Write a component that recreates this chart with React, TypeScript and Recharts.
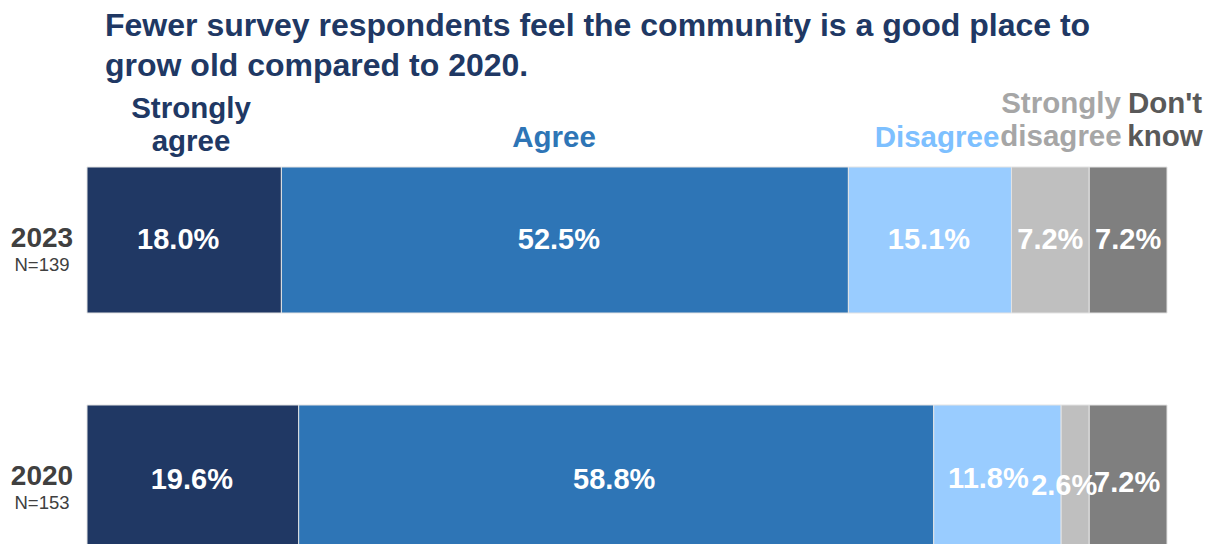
import React from 'react';
import { BarChart, Bar, XAxis, YAxis, LabelList } from 'recharts';

const years = ['2023', '2020'];
const sampleSizes = [139, 153];
const stronglyAgree = [18.0, 19.6];
const agree = [52.5, 58.8];
const disagree = [15.1, 11.8];
const stronglyDisagree = [7.2, 2.6];
const dontKnow = [7.2, 7.2];

const seriesKeys = ['stronglyAgree', 'agree', 'disagree', 'stronglyDisagree', 'dontKnow'];
const barColors = ['#203864', '#2E75B6', '#99CCFF', '#BFBFBF', '#7F7F7F'];

// label nudges (style only): [dx, dy] per series per row
const labelNudge: Record<string, [number, number][]> = {
  stronglyAgree: [[-6, -1], [-1, 1]],
  agree: [[-6, -1], [-2, 1]],
  disagree: [[-1, -1], [-9, 0]],
  stronglyDisagree: [[0, -1], [-11, 7]],
  dontKnow: [[0, -1], [-1, 4]],
};

const headers = [
  { lines: ['Strongly', 'agree'], color: '#203864', cx: 191, top: 91 },
  { lines: ['Agree'], color: '#2E75B6', cx: 554, top: 120 },
  { lines: ['Disagree'], color: '#7DC0FF', cx: 937, top: 120 },
  { lines: ['Strongly', 'disagree'], color: '#A6A6A6', cx: 1061, top: 86 },
  { lines: ["Don't", 'know'], color: '#595959', cx: 1165, top: 86 },
];

const data = years.map((y, i) => ({
  year: y,
  n: sampleSizes[i],
  stronglyAgree: stronglyAgree[i],
  agree: agree[i],
  disagree: disagree[i],
  stronglyDisagree: stronglyDisagree[i],
  dontKnow: dontKnow[i],
}));

const FONT = '"Liberation Sans", Arial, Helvetica, sans-serif';

const YearTick = (props: any) => {
  const { y, payload } = props;
  const n = data.find((d) => d.year === payload.value)?.n;
  return (
    <g>
      <text x={42} y={y} dy={7} textAnchor="middle" fontFamily={FONT} fontWeight="bold" fontSize={28} fill="#404040">
        {payload.value}
      </text>
      <text x={42} y={y} dy={31} textAnchor="middle" fontFamily={FONT} fontSize={18.5} fill="#404040">
        {`N=${n}`}
      </text>
    </g>
  );
};

const makeLabel = (key: string) => (props: any) => {
  const { x, y, width, height, value, index } = props;
  const [dx, dy] = labelNudge[key][index] || [0, 0];
  return (
    <text
      x={Number(x) + Number(width) / 2 + dx}
      y={Number(y) + Number(height) / 2 + dy}
      textAnchor="middle"
      dominantBaseline="central"
      fill="#FFFFFF"
      fontSize={29}
      fontWeight="bold"
      fontFamily={FONT}
    >
      {`${Number(value).toFixed(1)}%`}
    </text>
  );
};

export default function App() {
  return (
    <div style={{ position: 'absolute', left: 0, top: 0, width: 1209, height: 544, overflow: 'hidden', background: '#fff', fontFamily: FONT }}>
      <div
        style={{
          position: 'absolute',
          left: 105,
          top: 5,
          fontSize: 32,
          lineHeight: '40px',
          fontWeight: 'bold',
          color: '#203864',
          whiteSpace: 'nowrap',
        }}
      >
        <div>Fewer survey respondents feel the community is a good place to</div>
        <div>grow old compared to 2020.</div>
      </div>
      {headers.map((h, i) => (
        <div
          key={i}
          style={{
            position: 'absolute',
            left: h.cx - 100,
            width: 200,
            top: h.top,
            textAlign: 'center',
            fontSize: 29.5,
            lineHeight: '33px',
            fontWeight: 'bold',
            color: h.color,
            whiteSpace: 'nowrap',
          }}
        >
          {h.lines.map((l, j) => (
            <div key={j}>{l}</div>
          ))}
        </div>
      ))}
      <div style={{ position: 'absolute', left: 0, top: 0 }}>
        <BarChart
          width={1209}
          height={600}
          data={data}
          layout="vertical"
          margin={{ top: 121, right: 42, bottom: 3, left: 0 }}
          barCategoryGap={46}
        >
          <XAxis type="number" domain={[0, 100]} hide />
          <YAxis type="category" dataKey="year" width={87} axisLine={false} tickLine={false} tick={<YearTick />} />
          {seriesKeys.map((k, i) => (
            <Bar key={k} dataKey={k} stackId="a" fill={barColors[i]} stroke="#E3E3E3" strokeWidth={1} isAnimationActive={false}>
              <LabelList dataKey={k} content={makeLabel(k)} />
            </Bar>
          ))}
        </BarChart>
      </div>
    </div>
  );
}
